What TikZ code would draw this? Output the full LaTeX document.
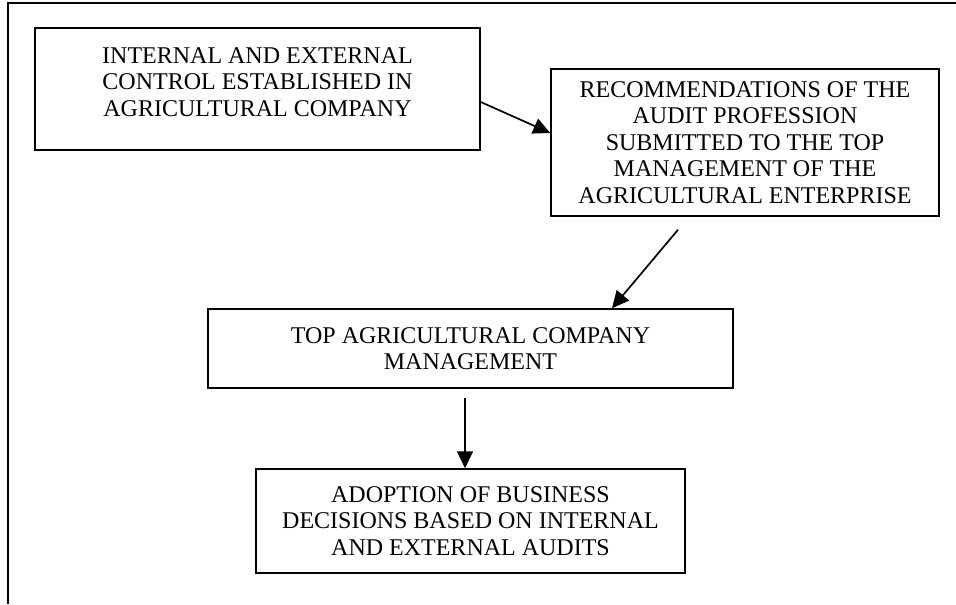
\documentclass[tikz,border=0pt]{standalone}
\usepackage{fontspec}
\setmainfont{Liberation Serif}
\usetikzlibrary{arrows.meta}

\begin{document}
\begin{tikzpicture}[x=0.5pt, y=-0.5pt,
		stagebox/.style={draw, line width=0.75pt, align=center, inner sep=0pt,
			font=\fontsize{12}{13.3}\selectfont},
		flow/.style={line width=0.85pt, -{Triangle[length=8.5pt,width=8pt]}}]
				\useasboundingbox (0,0) rectangle (956,604);
				\coordinate (frametop) at (956,3);
				\coordinate (framecorner) at (8,3);
				\coordinate (framebottom) at (8,604);
				
				\draw[line width=1.2pt] (frametop) -- (framecorner) -- (framebottom);
				
				\node[stagebox, minimum width=222.5pt, minimum height=61pt] (control) at (257.5,89)
					{INTERNAL AND EXTERNAL\\CONTROL ESTABLISHED IN\\AGRICULTURAL COMPANY\rule[-7pt]{0pt}{7pt}};
				\node[stagebox, minimum width=194pt, minimum height=73.5pt] (recommend) at (745,142.5)
					{RECOMMENDATIONS OF THE\\AUDIT PROFESSION\\SUBMITTED TO THE TOP\\MANAGEMENT OF THE\\AGRICULTURAL ENTERPRISE};
				\node[stagebox, minimum width=262.5pt, minimum height=39.5pt] (management) at (470.5,348.5)
					{TOP AGRICULTURAL COMPANY\\MANAGEMENT};
				\node[stagebox, minimum width=214.5pt, minimum height=52pt] (decisions) at (470.5,521)
					{ADOPTION OF BUSINESS\\DECISIONS BASED ON INTERNAL\\AND EXTERNAL AUDITS};
				
				\draw[flow] ([yshift=-6.5pt]control.east) -- ([yshift=4.75pt]recommend.west);
				\draw[flow] ([xshift=-33.5pt, yshift=-6.5pt]recommend.south) -- ([xshift=70.75pt]management.north);
				\draw[flow] ([xshift=-2.75pt, yshift=-4.5pt]management.south) -- ([xshift=-2.75pt]decisions.north);
			\end{tikzpicture}
\end{document}
